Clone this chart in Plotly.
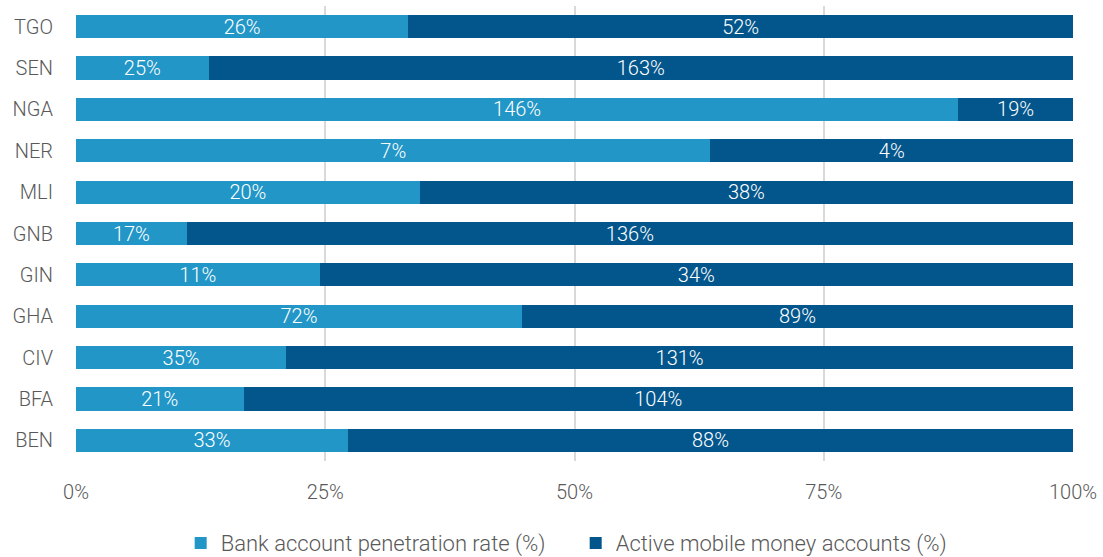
import plotly.graph_objects as go

countries = ["BEN", "BFA", "CIV", "GHA", "GIN", "GNB", "MLI", "NER", "NGA", "SEN", "TGO"]
bank_rate = [33, 21, 35, 72, 11, 17, 20, 7, 146, 25, 26]
mobile_money = [88, 104, 131, 89, 34, 136, 38, 4, 19, 163, 52]
x_ticks = [0, 25, 50, 75, 100]

FONT = "Roboto"
GREY = "#595959"

fig = go.Figure()
for vals, name, color in [
    (bank_rate, "Bank account penetration rate (%)", "#2196c7"),
    (mobile_money, "Active mobile money accounts (%)", "#03568c"),
]:
    fig.add_trace(go.Bar(
        y=countries, x=vals, orientation="h", name=name,
        marker=dict(color=color, line=dict(width=0)),
        text=[f"{v}%" for v in vals],
        textposition="inside", insidetextanchor="middle", textangle=0,
        constraintext="none",
        insidetextfont=dict(color="white", size=20, family=FONT, weight=300),
    ))

fig.update_layout(
    barmode="stack", barnorm="percent", bargap=0.44,
    width=1103, height=557,
    margin=dict(l=76, r=30, t=6, b=96, autoexpand=False),
    paper_bgcolor="white", plot_bgcolor="white",
    font=dict(family=FONT, color=GREY, size=20, weight=300),
    legend=dict(orientation="h", x=0.105, xanchor="left",
                yref="container", y=0.025, yanchor="middle",
                font=dict(size=22, color=GREY, family=FONT, weight=300),
                itemwidth=30, entrywidth=350, traceorder="normal"),
    xaxis=dict(range=[0, 100], tickvals=x_ticks, ticktext=[f"{t}%" for t in x_ticks],
               showgrid=True, gridcolor="#d9d9d9", gridwidth=1.5,
               zeroline=False, showline=False, ticks="", ticklabelstandoff=17,
               tickfont=dict(size=20, color=GREY)),
    yaxis=dict(categoryorder="array", categoryarray=countries, showgrid=False,
               zeroline=False, showline=False, ticks="", ticklabelstandoff=22,
               tickfont=dict(size=20, color=GREY)),
)

fig.write_html("out.html")
